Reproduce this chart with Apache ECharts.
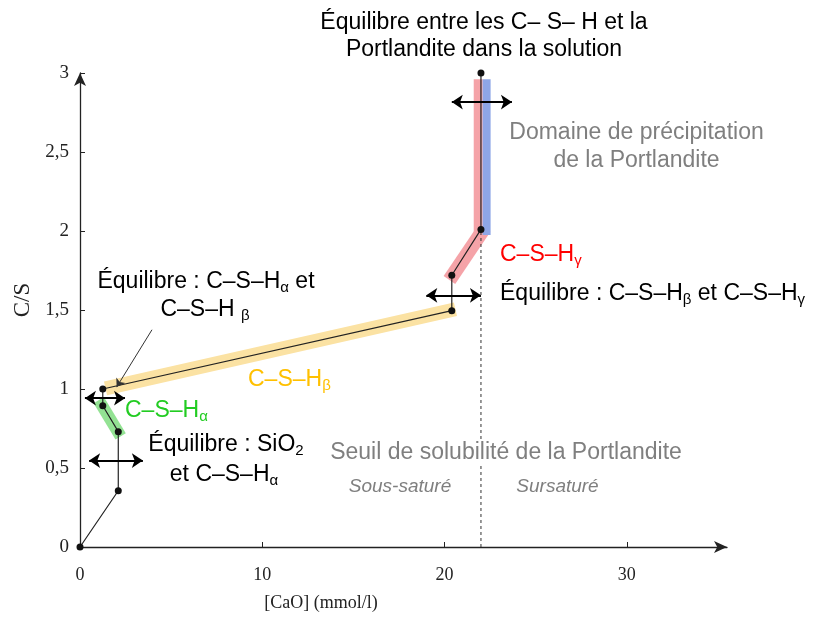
<!DOCTYPE html>
<html>
<head>
<meta charset="utf-8">
<script src="https://cdn.jsdelivr.net/npm/echarts@6/dist/echarts.min.js"></script>
<style>html,body{margin:0;padding:0;background:#fff}#c{width:815px;height:626px}</style>
</head>
<body>
<div id="c"></div>
<script>
// ---- data ----
const xTicks = [0, 10, 20, 30];
const yTicks = [0, 0.5, 1, 1.5, 2, 2.5, 3];
const pathX = [0, 2.1, 2.1, 1.25, 1.25, 20.4, 20.4, 22, 22];
const pathY = [0, 0.356, 0.73, 0.894, 1.0, 1.496, 1.72, 2.01, 3.0];
// highlighted domains (start/end points)
const bandBetaX = [1.4, 20.6];   const bandBetaY = [1.004, 1.505];
const bandAlphaX = [1.03, 2.23]; const bandAlphaY = [0.93, 0.70];
const bandGammaX = [20.27, 22.2]; const bandGammaY = [1.69, 2.02];
const bandRedVX = [21.85, 21.85]; const bandRedVY = [1.99, 2.96];
const bandBlueVX = [22.31, 22.31]; const bandBlueVY = [1.975, 2.96];
// double arrows: [x1, x2, y]
const arrowX1 = [0.5, 0.27, 20.4, 19.0];
const arrowX2 = [3.45, 2.47, 23.7, 22.0];
const arrowY = [0.547, 0.942, 2.816, 1.593];
// annotation pointer
const pointerX = [3.95, 2.01]; const pointerY = [1.375, 1.012];
// saturation threshold
const thresholdX = [22, 22]; const thresholdY = [0, 2.01];

const chart = echarts.init(document.getElementById('c'), null, {renderer: 'canvas'});

const SANS = '"Liberation Sans", Arial, sans-serif';
const SERIF = '"Liberation Serif", "Times New Roman", serif';

function pairs(xs, ys) { return xs.map((x, i) => [x, ys[i]]); }
function band(xs, ys, color, width) {
  return {
    type: 'line', data: pairs(xs, ys), symbol: 'none', silent: true, z: 2,
    lineStyle: {color: color, width: width, cap: 'butt'}
  };
}
function txt(text, x, y, color, align, opts) {
  opts = opts || {};
  const size = opts.size || 23;
  const style = {
    text: text, x: x, y: y, fill: color,
    font: (opts.italic ? 'italic ' : '') + size + 'px ' + SANS,
    textAlign: align, textVerticalAlign: 'middle', lineHeight: 26,
    rich: {
      s: {fill: color, fontSize: 15, fontFamily: SANS, verticalAlign: 'bottom', lineHeight: 15}
    }
  };
  if (opts.bg) { style.backgroundColor = '#ffffff'; style.padding = [0, 2]; }
  return {type: 'text', z: 50, style: style};
}

const arrowData = arrowY.map((y, i) => ({coords: [[arrowX1[i], y], [arrowX2[i], y]]}));

const option = {
  animation: false,
  backgroundColor: '#ffffff',
  grid: {left: 80, right: 88, top: 73, bottom: 79, containLabel: false, outerBoundsMode: 'none'},
  xAxis: {
    type: 'value', min: 0, max: 35.5, interval: 10,
    name: '[CaO] (mmol/l)', nameLocation: 'middle', nameGap: 47,
    nameTextStyle: {fontFamily: SERIF, fontSize: 18, color: '#222', padding: [0, 165, 0, 0]},
    axisLine: {show: true, onZero: false, symbol: ['none', 'arrow'], symbolSize: [9, 13],
      lineStyle: {color: '#222', width: 1.3}},
    axisTick: {show: true, inside: true, length: 5, customValues: xTicks, lineStyle: {color: '#222'}},
    axisLabel: {customValues: xTicks, margin: 19, fontFamily: SERIF, fontSize: 18, color: '#222'},
    splitLine: {show: false}
  },
  yAxis: {
    type: 'value', min: 0, max: 3, interval: 0.5,
    name: 'C/S', nameLocation: 'middle', nameGap: 45,
    nameTextStyle: {fontFamily: SERIF, fontSize: 23, color: '#222', padding: [0, 0, 0, 20]},
    axisLine: {show: true, onZero: false, symbol: ['none', 'arrow'], symbolSize: [9, 13],
      lineStyle: {color: '#222', width: 1.3}},
    axisTick: {show: true, inside: true, length: 5, lineStyle: {color: '#222'}},
    axisLabel: {margin: 11, fontFamily: SERIF, fontSize: 19, color: '#222',
      formatter: v => String(v).replace('.', ',')},
    splitLine: {show: false}
  },
  series: [
    band(bandBetaX, bandBetaY, '#fbe2a3', 14),
    band(bandAlphaX, bandAlphaY, '#93e293', 12),
    band(bandGammaX, bandGammaY, '#f5a3a8', 14),
    band(bandRedVX, bandRedVY, '#f5a3a8', 9),
    band(bandBlueVX, bandBlueVY, '#8ea6e6', 8),
    {
      type: 'line', data: pairs(thresholdX, thresholdY), symbol: 'none', silent: true, z: 3,
      lineStyle: {color: '#333', width: 1, type: [3, 3]}
    },
    {
      type: 'line', data: pairs(pathX, pathY), symbol: 'circle', symbolSize: 7, z: 5,
      itemStyle: {color: '#111'}, lineStyle: {color: '#222', width: 1.2}
    },
    {
      type: 'lines', coordinateSystem: 'cartesian2d', z: 6, silent: true,
      symbol: ['arrow', 'arrow'], symbolSize: 11,
      lineStyle: {color: '#000', width: 2, opacity: 1},
      data: arrowData
    },
    {
      type: 'lines', coordinateSystem: 'cartesian2d', z: 6, silent: true,
      symbol: ['none', 'arrow'], symbolSize: 8,
      lineStyle: {color: '#333', width: 1, opacity: 1},
      data: [{coords: pairs(pointerX, pointerY)}]
    }
  ],
  graphic: [
    txt('Équilibre entre les C– S– H et la', 484, 22.5, '#000', 'center'),
    txt('Portlandite dans la solution', 484, 50, '#000', 'center'),
    txt('Domaine de précipitation', 636.5, 133, '#7f7f7f', 'center'),
    txt('de la Portlandite', 636.5, 160.5, '#7f7f7f', 'center'),
    txt('C–S–H{s|γ}', 500, 255, '#ff0000', 'left'),
    txt('Équilibre : C–S–H{s|β} et C–S–H{s|γ}', 500, 294, '#000', 'left'),
    txt('Équilibre : C–S–H{s|α} et', 206, 282, '#000', 'center'),
    txt('C–S–H {s|β}', 205, 310, '#000', 'center'),
    txt('C–S–H{s|β}', 248, 380, '#ffc000', 'left'),
    txt('C–S–H{s|α}', 125, 411, '#22cc22', 'left'),
    txt('Équilibre : SiO{s|2}', 226, 445, '#000', 'center'),
    txt('et C–S–H{s|α}', 224, 475, '#000', 'center'),
    txt('Seuil de solubilité de la Portlandite', 506, 453, '#7f7f7f', 'center', {bg: true}),
    txt('Sous-saturé', 400, 487, '#7f7f7f', 'center', {italic: true, size: 19}),
    txt('Sursaturé', 557.5, 487, '#7f7f7f', 'center', {italic: true, size: 19})
  ]
};
chart.setOption(option);
</script>
</body>
</html>
